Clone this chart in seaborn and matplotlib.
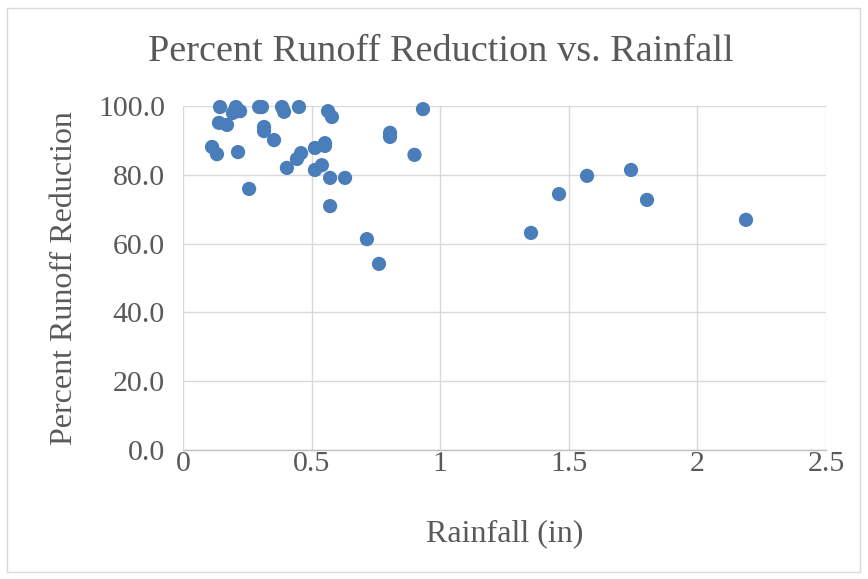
import matplotlib
matplotlib.use("Agg")
import matplotlib.pyplot as plt
import seaborn as sns
import pandas as pd
from matplotlib.patches import Rectangle

rainfall = [0.113, 0.132, 0.144, 0.140, 0.171, 0.206, 0.194, 0.222, 0.214, 0.257,
            0.296, 0.307, 0.315, 0.315, 0.354, 0.385, 0.393, 0.404, 0.451, 0.443,
            0.459, 0.513, 0.513, 0.540, 0.552, 0.552, 0.564, 0.579, 0.572, 0.630,
            0.572, 0.715, 0.762, 0.805, 0.805, 0.900, 0.933, 1.353, 1.462, 1.571,
            1.742, 1.804, 2.189]
reduction = [88.1, 86.0, 99.7, 95.1, 94.5, 99.7, 98.0, 98.5, 86.6, 75.9,
             99.7, 99.7, 93.9, 92.7, 90.1, 99.7, 98.3, 82.0, 99.7, 84.6,
             86.3, 87.8, 81.4, 82.8, 89.2, 88.4, 98.5, 96.8, 79.1, 79.1,
             70.9, 61.3, 54.1, 92.2, 91.0, 85.8, 99.1, 63.1, 74.4, 79.7,
             81.4, 72.7, 66.9]
x_ticks = [0, 0.5, 1, 1.5, 2, 2.5]
x_tick_labels = ["0", "0.5", "1", "1.5", "2", "2.5"]
y_ticks = [0, 20, 40, 60, 80, 100]
y_tick_labels = ["0.0", "20.0", "40.0", "60.0", "80.0", "100.0"]

df = pd.DataFrame({"Rainfall (in)": rainfall, "Percent Runoff Reduction": reduction})

sns.set_theme(style="white")
plt.rcParams["font.family"] = ["Liberation Serif", "DejaVu Serif"]

gray = "#595959"
fig = plt.figure(figsize=(8.68, 5.79), dpi=100)
ax = fig.add_axes([183/868, 1 - 450/579, (826-183)/868, (450-106)/579])

sns.scatterplot(data=df, x="Rainfall (in)", y="Percent Runoff Reduction", ax=ax,
                s=105, color="#4a7ebb", edgecolor="none", zorder=3, clip_on=False)

ax.set_xlim(0, 2.5)
ax.set_ylim(0, 100)
ax.set_xticks(x_ticks)
ax.set_xticklabels(x_tick_labels)
ax.set_yticks(y_ticks)
ax.set_yticklabels(y_tick_labels)
ax.grid(True, color="#d9d9d9", linewidth=1.0, zorder=0)
ax.set_axisbelow(True)
for s in ["top", "right", "left"]:
    ax.spines[s].set_visible(False)
ax.spines["bottom"].set_color("#bfbfbf")
ax.spines["bottom"].set_linewidth(1.0)
ax.tick_params(axis="both", length=0, labelsize=21.5, colors=gray)
ax.tick_params(axis="x", pad=1)
ax.tick_params(axis="y", pad=13)
ax.set_xlabel("Rainfall (in)", fontsize=23, color=gray, labelpad=30)
ax.set_ylabel("Percent Runoff Reduction", fontsize=23, color=gray, labelpad=14)
fig.text(441/868, 1 - 52/579, "Percent Runoff Reduction vs. Rainfall",
         ha="center", va="center", fontsize=27.5, color=gray)

fig.patches.append(Rectangle((7/868, 7/579), 853/868, 564/579, transform=fig.transFigure,
                             fill=False, edgecolor="#d9d9d9", linewidth=1.0))

fig.savefig("out.png", dpi=100)
